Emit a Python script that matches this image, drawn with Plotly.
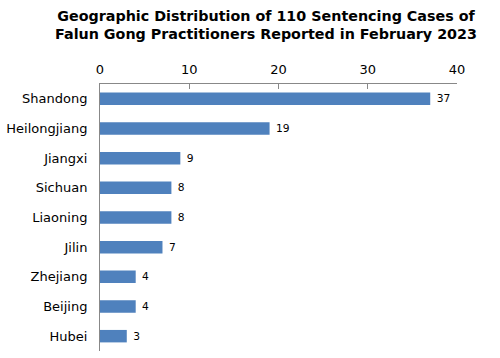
import plotly.graph_objects as go

provinces = ["Shandong", "Heilongjiang", "Jiangxi", "Sichuan", "Liaoning",
             "Jilin", "Zhejiang", "Beijing", "Hubei"]
cases = [37, 19, 9, 8, 8, 7, 4, 4, 3]
x_ticks = [0, 10, 20, 30, 40]

fig = go.Figure(go.Bar(
    x=cases, y=provinces, orientation="h",
    marker=dict(color="#4F81BD", line=dict(width=0)),
    width=0.42,
    text=[" " + str(v) for v in cases], textposition="outside",
    textfont=dict(family="DejaVu Sans", size=12, color="black"),
    cliponaxis=False,
))

fig.update_layout(
    width=500, height=358,
    margin=dict(l=100, r=43, t=84, b=7, autoexpand=False),
    paper_bgcolor="white", plot_bgcolor="white",
    showlegend=False,
    title=dict(
        text="Geographic Distribution of 110 Sentencing Cases of<br>Falun Gong Practitioners Reported in February 2023",
        x=0.532, xanchor="center", xref="container",
        y=0.942, yanchor="middle", yref="container", automargin=False,
        font=dict(family="DejaVu Sans", size=14.3, color="black", weight="bold"),
    ),
    xaxis=dict(
        side="top", range=[0, 40], tickvals=x_ticks, automargin=False,
        showgrid=False, zeroline=False, showline=True, linecolor="#888888",
        linewidth=1, ticks="inside", ticklen=5, tickcolor="#888888",
        tickfont=dict(family="DejaVu Sans", size=13, color="black"),
        ticklabelstandoff=4,
    ),
    yaxis=dict(
        autorange="reversed", showgrid=False, zeroline=False, automargin=False,
        showline=True, linecolor="#888888", linewidth=1, ticks="",
        tickfont=dict(family="DejaVu Sans", size=13, color="black"),
        ticklabelstandoff=9,
    ),
)

fig.write_html("out.html", config={"displayModeBar": False},
               post_script="document.body.style.margin='0';")
